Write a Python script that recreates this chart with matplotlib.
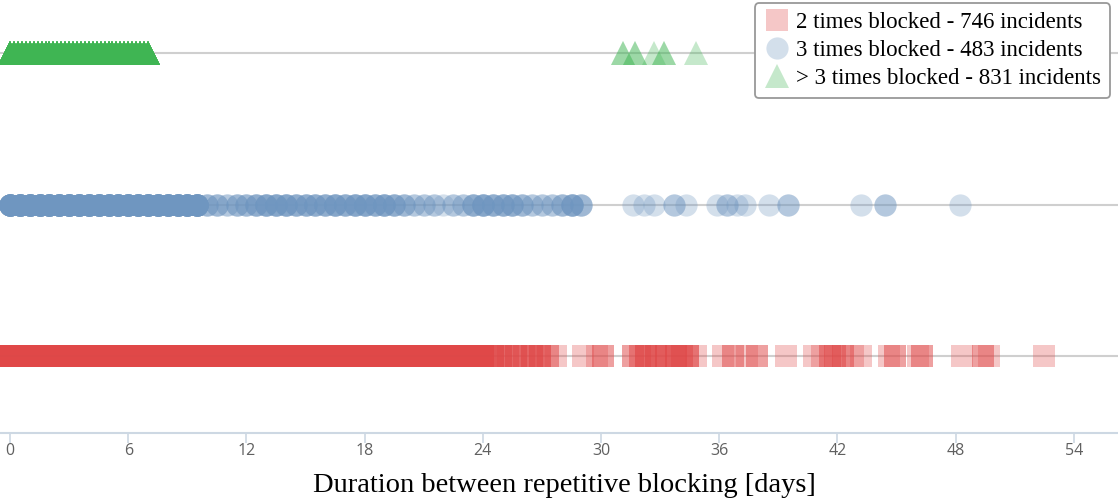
import numpy as np
import matplotlib.pyplot as plt

# Durations between repetitive blocking [days] and how many incidents sit at each value
red_days = [0.0, 0.5, 1.0, 1.5, 2.0, 2.5, 3.0, 3.5, 4.0, 4.5, 5.0, 5.5, 6.0, 6.5, 7.0, 7.5,
            8.0, 8.5, 9.0, 9.5, 10.0, 10.5, 11.0, 11.5, 12.0, 12.5, 13.0, 13.5, 14.0, 14.5,
            15.0, 15.5, 16.0, 16.5, 17.0, 17.5, 18.0, 18.5, 19.0, 19.5, 20.0, 20.5, 21.0,
            21.5, 22.0, 22.5, 23.0, 23.5, 24.0,
            24.5, 24.9, 25.3, 25.7, 26.1, 26.5, 26.9, 27.3, 27.7, 29.1, 29.8, 30.1,
            31.6, 32.0, 32.3, 32.8, 33.3, 33.8, 34.1, 34.4, 34.8, 36.2, 36.7, 37.4, 37.9, 39.4,
            40.8, 41.2, 41.6, 41.9, 42.3, 42.8, 43.2, 44.6, 44.9, 46.1, 46.3,
            48.3, 49.4, 49.7, 52.5]
red_counts = [15, 15, 15, 14, 14, 14, 14, 14, 13, 13, 11, 9, 13, 13, 13, 13,
              13, 11, 9, 13, 13, 13, 13, 12, 12, 10, 13, 13, 13, 13,
              12, 11, 11, 13, 13, 13, 13, 13, 13, 13, 12, 12, 12,
              12, 12, 12, 12, 12, 12,
              4, 3, 2, 3, 2, 3, 3, 2, 1, 1, 1, 2,
              2, 2, 3, 3, 3, 3, 2, 3, 1, 1, 2, 1, 2, 1,
              1, 1, 2, 2, 2, 1, 1, 1, 2, 1, 2,
              1, 2, 1, 1]

blue_days = [0.0, 0.5, 1.0, 1.5, 2.0, 2.5, 3.0, 3.5, 4.0, 4.5, 5.0, 5.5, 6.0, 6.5, 7.0,
             7.5, 8.0, 8.5, 9.0, 9.5,
             10.0, 10.5, 11.0, 11.5, 12.0, 12.5, 13.0, 13.5, 14.0, 14.5, 15.0, 15.5, 16.0,
             16.5, 17.0, 17.5, 18.0, 18.5, 19.0, 19.5, 20.0, 20.5, 21.0, 21.5, 22.0, 22.5, 23.0,
             23.5, 24.0, 24.5, 25.0, 25.5, 26.0, 26.5, 27.0, 27.5, 28.0, 28.5, 29.0,
             31.6, 32.2, 32.7, 33.7, 34.3, 35.9, 36.4, 36.9, 37.3, 38.5, 39.5,
             43.2, 44.4, 48.2]
blue_counts = [16, 16, 16, 16, 16, 16, 16, 16, 15, 15, 15, 15, 15, 15, 15,
               15, 14, 14, 14, 14,
               3, 3, 2, 3, 3, 4, 5, 5, 5, 4, 4, 4, 4,
               5, 4, 5, 5, 4, 5, 4, 3, 2, 2, 2, 1, 2, 2,
               4, 5, 4, 4, 4, 3, 2, 2, 2, 3, 5, 3,
               1, 1, 1, 2, 1, 1, 2, 1, 1, 1, 2,
               1, 2, 1]

green_days = [0.0, 0.2, 0.4, 0.6, 0.8, 1.0, 1.2, 1.4, 1.6, 1.8, 2.0, 2.2, 2.4, 2.6, 2.8,
              3.0, 3.2, 3.4, 3.6, 3.8, 4.0, 4.2, 4.4, 4.6, 4.8, 5.0, 5.2, 5.4, 5.6, 5.8,
              6.0, 6.2, 6.4, 6.6, 6.8, 7.0,
              31.1, 31.7, 32.7, 33.2, 34.8]
green_counts = [23] * 36 + [2, 2, 1, 2, 1]

labels = ['2 times blocked - 746 incidents',
          '3 times blocked - 483 incidents',
          '> 3 times blocked - 831 incidents']
xticks = [0, 6, 12, 18, 24, 30, 36, 42, 48, 54]

rows = [(red_days, red_counts, 's', 16, '#e04848', 0),
        (blue_days, blue_counts, 'o', 16, '#6f96c0', 1),
        (green_days, green_counts, '^', 17, '#3fb553', 2)]

fig = plt.figure(figsize=(11.18, 4.99), dpi=100)
ax = fig.add_axes([0, 0.1323, 1, 0.8677])

for (days, counts, marker, size, color, row), label in zip(rows, labels):
    ax.axhline(row, color='#cfcfcf', lw=1.5, zorder=0.5)
    x = np.repeat(days, counts)
    ax.plot(x, np.full(len(x), row), linestyle='none', marker=marker, markersize=size,
            markeredgewidth=0, color=color, alpha=0.3, label=label, zorder=2)

ax.set_xlim(-0.51, 56.24)
ax.set_ylim(-0.508, 2.35)
ax.set_yticks([])
ax.set_xticks(xticks)
ax.set_xticklabels([str(t) for t in xticks], fontfamily='Open Sans')
for s in ['left', 'right', 'top']:
    ax.spines[s].set_visible(False)
ax.spines['bottom'].set_color('#cdd8e3')
ax.spines['bottom'].set_linewidth(1.5)
ax.tick_params(axis='x', direction='out', length=7, width=1.2, color='#cdd8e3',
               labelcolor='#606060', labelsize=11.5, pad=0)
ax.set_xlabel('Duration between repetitive blocking [days]', fontfamily='Liberation Serif',
              fontsize=20.5)
ax.xaxis.set_label_coords(564 / 1118, -0.093)

leg = ax.legend(loc='upper right', bbox_to_anchor=(0.993, 0.994), bbox_transform=fig.transFigure,
                borderaxespad=0, prop={'family': 'Liberation Serif', 'size': 16.5},
                handlelength=1.1, handletextpad=0.3, labelspacing=0.3, borderpad=0.4,
                fancybox=True, framealpha=1, edgecolor='#999999')
leg.get_frame().set_linewidth(1.3)

fig.savefig('out.png', dpi=100)
